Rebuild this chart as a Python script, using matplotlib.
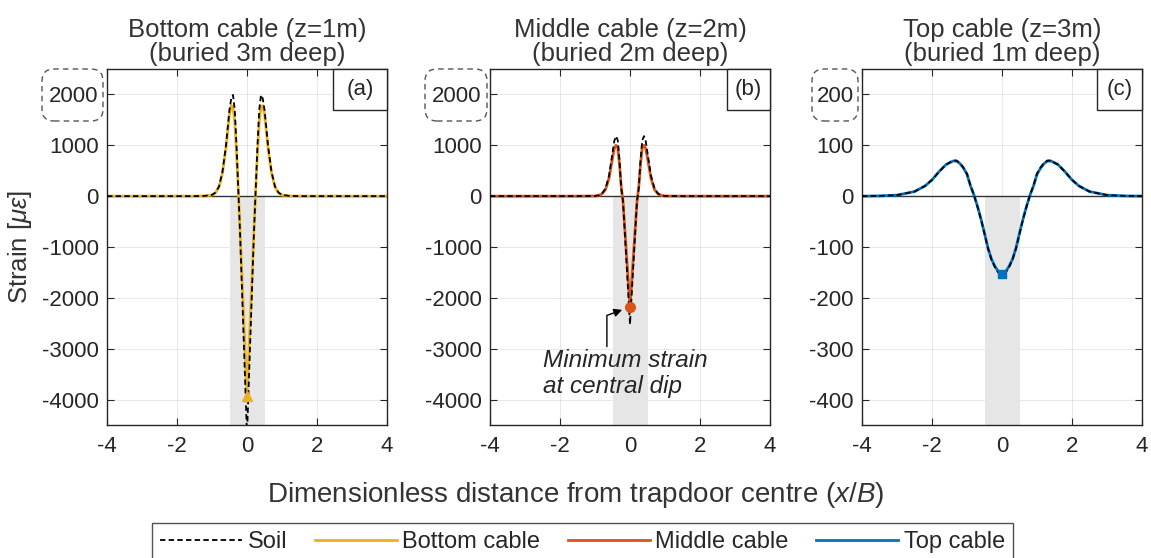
import numpy as np
import matplotlib
matplotlib.use('Agg')
import matplotlib.pyplot as plt
from matplotlib.patches import FancyBboxPatch, Rectangle

plt.rcParams['font.family'] = ['Liberation Sans', 'DejaVu Sans']
plt.rcParams['mathtext.fontset'] = 'custom'
plt.rcParams['mathtext.rm'] = 'Liberation Sans'
plt.rcParams['mathtext.it'] = 'Liberation Sans:italic'

# ---------------- data ----------------
x_a = [-4, -3, -2, -1.5, -1.2, -1.0, -0.9, -0.8, -0.7, -0.6, -0.55, -0.5, -0.45, -0.4, -0.35, -0.3, -0.25, -0.2, -0.1, 0,
       0.1, 0.2, 0.25, 0.3, 0.35, 0.4, 0.45, 0.5, 0.55, 0.6, 0.7, 0.8, 0.9, 1.0, 1.2, 1.5, 2, 3, 4]
soil_a = [0, 0, 0, 0, 5, 25, 70, 190, 480, 1000, 1350, 1700, 1920, 1990, 1700, 1000, 150, -700, -2700, -4700,
          -2700, -700, 150, 1000, 1700, 1990, 1920, 1700, 1350, 1000, 480, 190, 70, 25, 5, 0, 0, 0, 0]
bottom_cable = [0, 0, 0, 0, 4, 22, 65, 180, 460, 950, 1300, 1620, 1780, 1760, 1450, 850, 150, -650, -2300, -3930,
                -2300, -650, 150, 850, 1450, 1760, 1780, 1620, 1300, 950, 460, 180, 65, 22, 4, 0, 0, 0, 0]

x_b = [-4, -3, -2, -1.5, -1.0, -0.9, -0.8, -0.7, -0.6, -0.5, -0.45, -0.4, -0.35, -0.3, -0.25, -0.2, -0.1, 0,
       0.1, 0.2, 0.25, 0.3, 0.35, 0.4, 0.45, 0.5, 0.6, 0.7, 0.8, 0.9, 1.0, 1.5, 2, 3, 4]
soil_b = [0, 0, 0, 0, 3, 15, 50, 150, 400, 850, 1080, 1180, 1100, 700, 150, -100, -1300, -2520,
          -1300, -100, 150, 700, 1100, 1180, 1080, 850, 400, 150, 50, 15, 3, 0, 0, 0, 0]
middle_cable = [0, 0, 0, 0, 3, 12, 45, 130, 350, 750, 930, 1000, 960, 620, 180, -100, -1150, -2180,
                -1150, -100, 180, 620, 960, 1000, 930, 750, 350, 130, 45, 12, 3, 0, 0, 0, 0]

x_c = [-4, -3.5, -3, -2.5, -2.2, -2, -1.8, -1.6, -1.4, -1.3, -1.2, -1.1, -1.0, -0.9, -0.8, -0.7, -0.6, -0.5, -0.4, -0.3, -0.2, -0.1, 0,
       0.1, 0.2, 0.3, 0.4, 0.5, 0.6, 0.7, 0.8, 0.9, 1.0, 1.1, 1.2, 1.3, 1.4, 1.6, 1.8, 2, 2.2, 2.5, 3, 3.5, 4]
soil_c = [0, 0.5, 2, 9, 20, 32, 48, 62, 70, 70, 65, 56, 44, 21, 2, -21, -46, -74, -103, -125, -140, -151, -155,
          -151, -140, -125, -103, -74, -46, -21, 2, 21, 44, 56, 65, 70, 70, 62, 48, 32, 20, 9, 2, 0.5, 0]
top_cable = [0, 0.5, 2, 9, 20, 32, 48, 62, 69, 69, 64, 55, 43, 20, 2, -20, -45, -73, -102, -124, -138, -149, -153,
             -149, -138, -124, -102, -73, -45, -20, 2, 20, 43, 55, 64, 69, 69, 62, 48, 32, 20, 9, 2, 0.5, 0]

titles = ["Bottom cable (z=1m)\n(buried 3m deep)",
          "Middle cable (z=2m)\n(buried 2m deep)",
          "Top cable (z=3m)\n(buried 1m deep)"]
panel_labels = ["(a)", "(b)", "(c)"]
legend_labels = ["Soil", "Bottom cable", "Middle cable", "Top cable"]
x_ticks = [-4, -2, 0, 2, 4]
y_ticks_ab = [-4000, -3000, -2000, -1000, 0, 1000, 2000]
y_ticks_c = [-400, -300, -200, -100, 0, 100, 200]

# ---------------- style ----------------
W, H = 1151, 558
fig = plt.figure(figsize=(W / 100, H / 100), dpi=100)
INK = '#262626'
YEL, ORA, BLU = '#EDB120', '#D95319', '#0072BD'

panels = [
    dict(x=x_a, soil=soil_a, cable=bottom_cable, color=YEL, marker='^', ms=7, ylim=(-4500, 2500), yt=y_ticks_ab,
         left=107, box=(42, 103), lab_left=333),
    dict(x=x_b, soil=soil_b, cable=middle_cable, color=ORA, marker='o', ms=7, ylim=(-4500, 2500), yt=y_ticks_ab,
         left=490, box=(425, 487), lab_left=727),
    dict(x=x_c, soil=soil_c, cable=top_cable, color=BLU, marker='s', ms=6, ylim=(-450, 250), yt=y_ticks_c,
         left=862, box=(812, 858), lab_left=1097),
]

ax_top, ax_bot, ax_w = 69, 425, 280
axes = []
handles = []
for i, p in enumerate(panels):
    ax = fig.add_axes([p['left'] / W, 1 - ax_bot / H, ax_w / W, (ax_bot - ax_top) / H])
    axes.append(ax)
    ax.set_xlim(-4, 4)
    ax.set_ylim(*p['ylim'])
    ax.set_xticks(x_ticks)
    ax.set_yticks(p['yt'])
    ax.set_xticklabels([str(v) for v in x_ticks])
    ax.set_yticklabels([str(v) for v in p['yt']])
    ax.tick_params(direction='in', top=True, right=True, length=5, width=0.8, colors=INK,
                   labelsize=16, pad=8)
    ax.tick_params(axis='y', pad=6)
    for s in ax.spines.values():
        s.set_color(INK)
        s.set_linewidth(1.0)
    ax.grid(True, color=INK, alpha=0.1, linewidth=0.8)
    ax.set_axisbelow(True)
    # trapdoor band
    ax.fill_between([-0.5, 0.5], [0, 0], [p['ylim'][0]] * 2, color='#e6e6e6', zorder=0.8, linewidth=0)
    ax.axhline(0, color='#333333', linewidth=1.0, zorder=1.2)
    cl, = ax.plot(p['x'], p['cable'], color=p['color'], linewidth=2.0, zorder=2)
    sl, = ax.plot(p['x'], p['soil'], color='black', linewidth=1.3, linestyle=(0, (3, 1.8)), zorder=3)
    k = int(np.argmin(p['cable']))
    ax.plot([p['x'][k]], [p['cable'][k]], marker=p['marker'], color=p['color'], markersize=p['ms'],
            linestyle='none', zorder=4)
    ax.set_title(titles[i], fontsize=18.5, color='#333333', pad=6, linespacing=1.0)
    # panel label box
    lx0 = (p['lab_left'] - p['left']) / ax_w
    ly0 = (ax_bot - 110) / (ax_bot - ax_top)
    ax.add_patch(Rectangle((lx0, ly0), 1 - lx0, 1 - ly0, transform=ax.transAxes, facecolor='white',
                           edgecolor=INK, linewidth=1.0, zorder=6, clip_on=False))
    ax.text((lx0 + 1) / 2, (ly0 + 1) / 2, panel_labels[i], transform=ax.transAxes, ha='center', va='center',
            fontsize=16, color=INK, zorder=7)
    # dashed rounded box around top tick label
    bx0, bx1 = p['box']
    r = 12
    fig.patches.append(FancyBboxPatch((bx0 / W, 1 - 121 / H), (bx1 - bx0) / W, (121 - 69) / H,
                                      boxstyle=f"round,pad=0,rounding_size={r / W}", mutation_aspect=W / H,
                                      transform=fig.transFigure, facecolor='none', edgecolor='#555555',
                                      linewidth=1.0, linestyle=(0, (4, 3))))
    if i == 0:
        handles.append(sl)
    handles.append(cl)

axes[0].set_ylabel(r"Strain [$\mu\varepsilon$]", fontsize=18.5, color='#333333')
axes[0].yaxis.set_label_coords(-0.262, 0.5)

# annotation in (b)
axb = axes[1]
kb = int(np.argmin(middle_cable))
axb.annotate('', xy=(x_b[kb], middle_cable[kb]), xytext=(-0.66, -2960),
             arrowprops=dict(arrowstyle='-|>', color='black', lw=1.0, shrinkA=0, shrinkB=6, mutation_scale=12,
                             connectionstyle='angle,angleA=90,angleB=20,rad=0'), zorder=5)
axb.text(-2.49, -3000, "Minimum strain\nat central dip", style='italic', fontsize=17.5, ha='left', va='top',
         color=INK, linespacing=1.2)

fig.text(0.5, 1 - 502 / H, r"Dimensionless distance from trapdoor centre ($x/B$)", fontsize=20,
         ha='center', va='baseline', color='#333333')

leg = fig.legend(handles=handles, labels=legend_labels, loc='upper center', bbox_to_anchor=(582.5 / W, 1 - 523 / H),
                 ncol=4, fontsize=17, frameon=True, fancybox=False, handlelength=3.47, handletextpad=0.25,
                 columnspacing=1.15, borderpad=0.35, borderaxespad=0)
leg.get_frame().set_edgecolor(INK)
leg.get_frame().set_linewidth(1.0)
for t in leg.get_texts():
    t.set_color(INK)

fig.savefig('out.png', dpi=100)
